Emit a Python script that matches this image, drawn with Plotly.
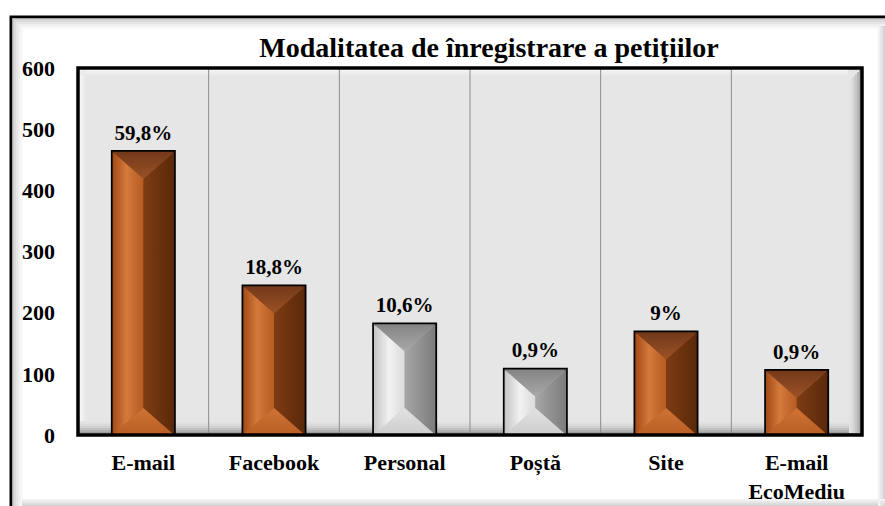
import plotly.graph_objects as go

categories = ["E-mail", "Facebook", "Personal", "Poștă", "Site", "E-mail<br>EcoMediu"]
values = [463, 243, 181, 107, 168, 105]
labels = ["59,8%", "18,8%", "10,6%", "0,9%", "9%", "0,9%"]
styles = ["brown", "brown", "gray", "gray", "brown", "brown"]
y_ticks = [0, 100, 200, 300, 400, 500, 600]

W, H = 885, 506
L, R, T, B = 78, 862, 68, 435
ML, MR, MT, MB = L, W - R, T, H - B
PW, PH = R - L, B - T
YMAX = 600
BAR_W = 0.47
FONT = "Liberation Serif"

palettes = {
    "brown": {
        "face": "#b0571f",
        "left": [[0, "#a34b17"], [0.45, "#d47a3c"], [1, "#b65b22"]],
        "right": [[0, "#7e3c13"], [1, "#5a290a"]],
        "top": [[0, "#9a5226"], [1, "#74391a"]],
        "bottom": [[0, "#b95e24"], [1, "#cf7335"]],
    },
    "gray": {
        "face": "#c0c0c0",
        "left": [[0, "#c4c4c4"], [0.5, "#f2f2f2"], [1, "#dadada"]],
        "right": [[0, "#a6a6a6"], [1, "#7c7c7c"]],
        "top": [[0, "#a8a8a8"], [1, "#858585"]],
        "bottom": [[0, "#cdcdcd"], [1, "#e2e2e2"]],
    },
}

def px_x(X):
    return (X - L) / PW

def px_y(Y):
    return (B - Y) / PH

fig = go.Figure()
xs = list(range(len(categories)))

fig.add_trace(go.Bar(
    x=xs, y=values, width=BAR_W,
    marker=dict(color=[palettes[s]["face"] for s in styles], line=dict(width=0)),
    hoverinfo="skip", showlegend=False,
))

units_per_px = YMAX / PH
bevel_px = 27
for i, (v, s) in enumerate(zip(values, styles)):
    pal = palettes[s]
    c = xs[i]
    hw = BAR_W / 2
    bv = min(bevel_px * units_per_px, v / 2)
    polys = {
        "left": ([c - hw, c - hw, c, c, c - hw], [0, v, v - bv, bv, 0], "horizontal"),
        "right": ([c, c, c + hw, c + hw, c], [bv, v - bv, v, 0, bv], "horizontal"),
        "top": ([c - hw, c + hw, c, c - hw], [v, v, v - bv, v], "vertical"),
        "bottom": ([c - hw, c + hw, c, c - hw], [0, 0, bv, 0], "vertical"),
    }
    for key, (px, py, gtype) in polys.items():
        fig.add_trace(go.Scatter(
            x=px, y=py, mode="lines", line=dict(width=0),
            fill="toself",
            fillgradient=dict(type=gtype, colorscale=pal[key]),
            hoverinfo="skip", showlegend=False,
        ))

fig.add_trace(go.Bar(
    x=xs, y=values, width=BAR_W,
    marker=dict(color="rgba(0,0,0,0)", line=dict(color="black", width=3.5)),
    hoverinfo="skip", showlegend=False,
))

label_pad = 7 * units_per_px
fig.add_trace(go.Scatter(
    x=xs, y=[v + label_pad for v in values], mode="text",
    text=[f"<b>{t}</b>" for t in labels], textposition="top center", cliponaxis=False,
    textfont=dict(family=FONT, size=21, color="black"),
    hoverinfo="skip", showlegend=False,
))

shapes = []

def strip(x0, x1, y0, y1, col):
    shapes.append(dict(type="rect", xref="paper", yref="paper", layer="below",
                       x0=px_x(x0), x1=px_x(x1), y0=px_y(y1), y1=px_y(y0),
                       line=dict(width=0), fillcolor=col))

# outer chart frame
shapes.append(dict(type="rect", xref="paper", yref="paper", layer="below",
                   x0=px_x(11), x1=px_x(900), y0=px_y(525), y1=px_y(17),
                   line=dict(color="black", width=3), fillcolor="white"))
for k, col in enumerate(["#c8c8c8", "#d8d8d8", "#e4e4e4", "#eeeeee", "#f6f6f6"]):
    strip(12.5 + 2 * k, 14.5 + 2 * k, 18.5 + 2 * k, 506, col)
    strip(12.5 + 2 * k, 885, 18.5 + 2 * k, 20.5 + 2 * k, col)
for k, col in enumerate(["#d0d0d0", "#dcdcdc", "#e8e8e8", "#f2f2f2"]):
    strip(884 - 2 * k, 886 - 2 * k, 26, 506, col)
    strip(22, 885, 505 - 2 * k, 507 - 2 * k, col)

# plot area background with bevel
strip(L, R, T, B, "#e6e6e6")
for k, col in enumerate(["#9c9c9c", "#b0b0b0", "#c2c2c2", "#d0d0d0", "#dadada", "#e0e0e0"]):
    strip(L, R, B - 3 - 2 * k, B - 1 - 2 * k, col)
for k, col in enumerate(["#a8a8a8", "#b8b8b8", "#c6c6c6", "#d2d2d2", "#dcdcdc", "#e2e2e2"]):
    strip(R - 3 - 2 * k, R - 1 - 2 * k, T + 2 + 2 * k, B - 2, col)
for k, col in enumerate(["#f6f6f6", "#f0f0f0", "#ebebeb"]):
    strip(L + 1 + 2 * k, L + 3 + 2 * k, T + 2, B - 14, col)
    strip(L + 2, R - 14, T + 1 + 2 * k, T + 3 + 2 * k, col)

# category separators
for i in range(len(categories) - 1):
    shapes.append(dict(type="line", xref="x", yref="paper", layer="below",
                       x0=i + 0.5, x1=i + 0.5, y0=0, y1=1,
                       line=dict(color="#8c8c8c", width=1)))
# plot area border
shapes.append(dict(type="rect", xref="paper", yref="paper", layer="above",
                   x0=0, x1=1, y0=0, y1=1, line=dict(color="black", width=3.5),
                   fillcolor="rgba(0,0,0,0)"))

fig.update_layout(
    width=W, height=H,
    margin=dict(l=ML, r=MR, t=MT, b=MB, pad=0, autoexpand=False),
    paper_bgcolor="white", plot_bgcolor="rgba(0,0,0,0)",
    barmode="overlay",
    shapes=shapes,
    font=dict(family=FONT, color="black"),
    title=dict(text="<b>Modalitatea de înregistrare a petițiilor</b>",
               x=489 / W, xanchor="center",
               y=1 - 47 / H, yanchor="middle", automargin=False,
               font=dict(family=FONT, size=28, color="black")),
    xaxis=dict(range=[-0.5, len(categories) - 0.5], tickvals=xs, ticktext=[f"<b>{c}</b>" for c in categories],
               showgrid=False, zeroline=False, showline=False, ticks="", ticklabelstandoff=12,
               automargin=False,
               tickfont=dict(family=FONT, size=22, color="black")),
    yaxis=dict(range=[0, YMAX], tickvals=y_ticks, ticktext=[f"<b>{t}</b>" for t in y_ticks],
               showgrid=False, zeroline=False, showline=False, ticks="", ticklabelstandoff=22,
               automargin=False,
               tickfont=dict(family=FONT, size=22, color="black")),
)

fig.write_html("out.html", config={"displayModeBar": False},
               post_script="document.body.style.margin='0';document.body.style.overflow='hidden';")
